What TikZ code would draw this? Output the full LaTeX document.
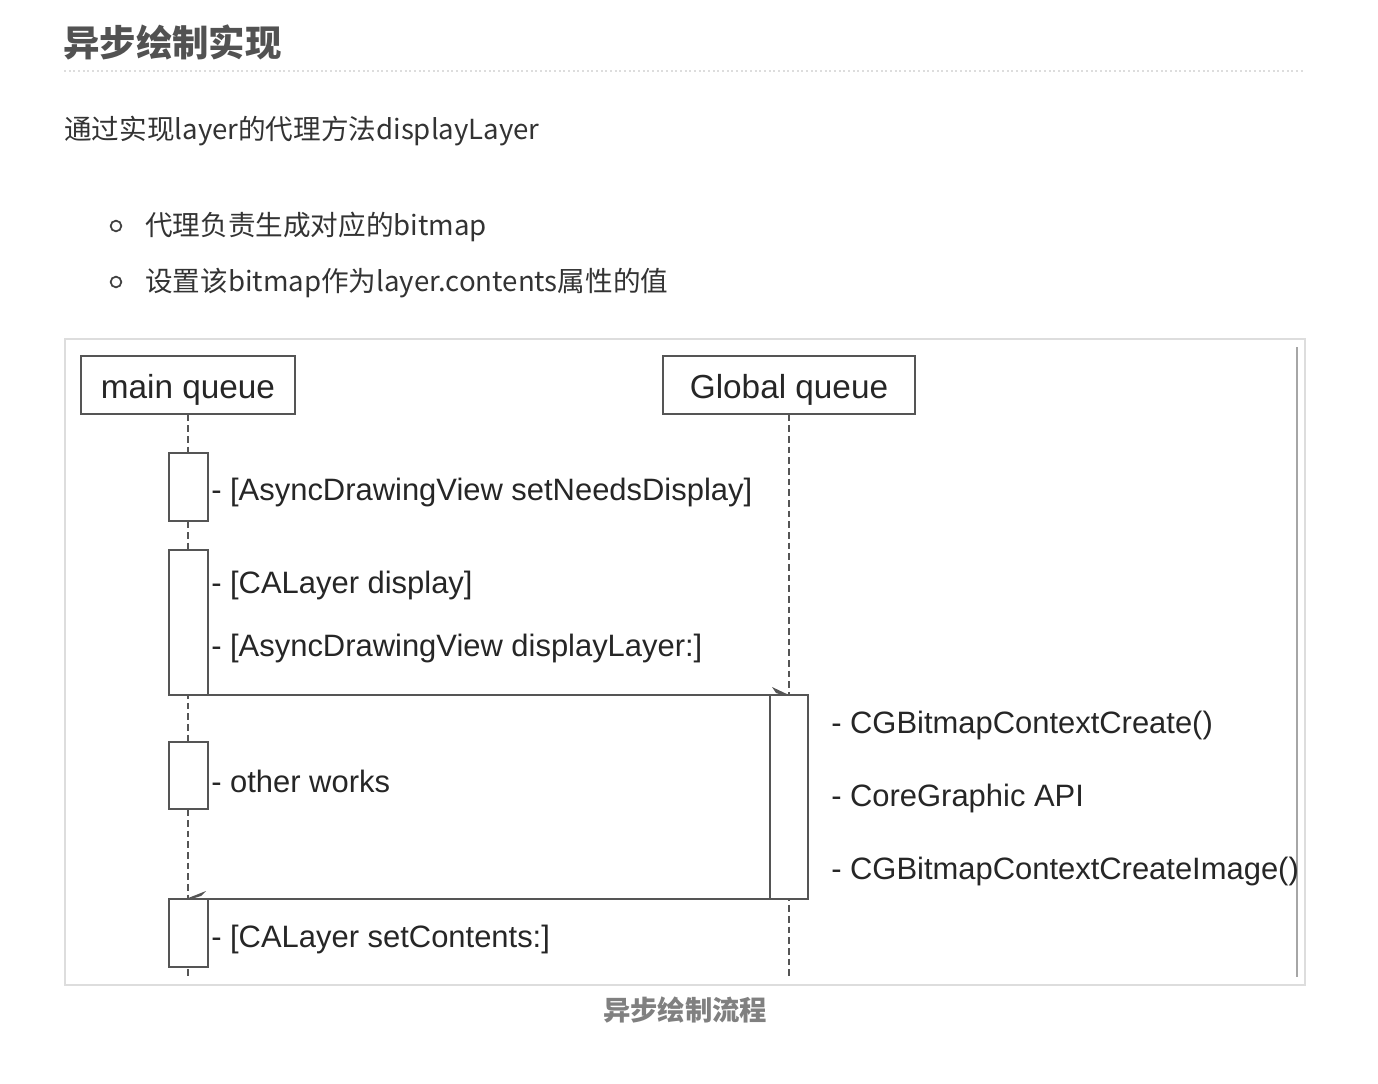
\documentclass[tikz,border=0pt]{standalone}
\usepackage{fontspec}
\setmainfont{Liberation Sans}
\newfontfamily\cjk{Noto Sans CJK SC}
\usetikzlibrary{arrows.meta}
\definecolor{lineg}{HTML}{555555}
\definecolor{frameg}{HTML}{DDDDDD}
\tikzset{
  x=0.75pt, y=-0.75pt,
  qbox/.style={draw=lineg, line width=1.1pt, minimum height=58*0.75pt, inner sep=0pt, font=\fontsize{25}{28}\selectfont, text=black!85},
  actbox/.style={draw=lineg, line width=1.1pt, fill=white},
  life/.style={draw=lineg, line width=1pt, dash pattern=on 5pt off 3pt},
  lbl/.style={anchor=west, inner sep=0pt, font=\fontsize{23.2}{26}\selectfont, text=black!85},
  msg/.style={draw=lineg, line width=1.1pt},
  body/.style={anchor=west, inner sep=0pt, font=\cjk\fontsize{20.7}{24}\selectfont, text=black!80},
}
\begin{document}
\begin{tikzpicture}
\useasboundingbox (0,0) rectangle (1378,1084);
% title
\node[anchor=west, inner sep=0pt, font=\cjk\bfseries\fontsize{27.3}{30}\selectfont, text=black!68] (title) at (63,42) {异步绘制实现};
\draw[frameg, line width=1.4pt, dash pattern=on 1.5pt off 2pt] (64,71) -- (1305,71);
\node[body] (intro) at (64,131) {通过实现layer的代理方法displayLayer};
\node[draw=black!75, circle, line width=1.3pt, minimum size=8pt, inner sep=0pt] (b1) at (116,226) {};
\node[draw=black!75, circle, line width=1.3pt, minimum size=8pt, inner sep=0pt] (b2) at (116,282) {};
\node[body] (t1) at (145,227) {代理负责生成对应的bitmap};
\node[body] (t2) at (145,283) {设置该bitmap作为layer.contents属性的值};
% frame
\draw[frameg, line width=1.5pt] (65,339) rectangle (1305,985);
\draw[black!35, line width=1.3pt] (1297,347) -- (1297,977);
% queues
\node[qbox, minimum width=214*0.75pt] (mq) at (188,385) {};
\node[qbox, minimum width=252*0.75pt] (gq) at (789,385) {};
\node[font=\fontsize{25}{28}\selectfont, text=black!85, inner sep=0pt] (mqt) at (188,390) {main queue};
\node[font=\fontsize{25}{28}\selectfont, text=black!85, inner sep=0pt] (gqt) at (789,390) {Global queue};
\coordinate (mend) at (188,977);
\coordinate (gend) at (789,977);
\draw[life] (mq.south) -- (mend);
\draw[life] (gq.south) -- (gend);
% activations main
\draw[actbox] (169,453) rectangle (208,521);
\draw[actbox] (169,550) rectangle (208,695);
\draw[actbox] (169,742) rectangle (208,809);
\draw[actbox] (169,899) rectangle (208,967);
\draw[actbox] (770,695) rectangle (808,899);
\coordinate (m1) at (208,695);
\coordinate (g1) at (789,695);
\coordinate (g2) at (770,899);
\coordinate (m2) at (188,899);
% messages
\draw[msg] (m1) -- (g1);
\fill[lineg] (790,695.5) -- (772,687) -- (776,693) -- (784,695.5) -- cycle;
\draw[msg] (g2) -- (m2);
\fill[lineg] (187,898.5) -- (206,891) -- (201,896) -- (193,898.5) -- cycle;
% labels
\node[lbl] (l1) at (211,493) {- [AsyncDrawingView setNeedsDisplay]};
\node[lbl] (l2) at (211,585) {- [CALayer display]};
\node[lbl] (l3) at (211,648) {- [AsyncDrawingView displayLayer:]};
\node[lbl] (l4) at (211,781) {- other works};
\node[lbl] (l5) at (211,939) {- [CALayer setContents:]};
\node[lbl] (r1) at (831,725) {- CGBitmapContextCreate()};
\node[lbl] (r2) at (831,798) {- CoreGraphic API};
\node[lbl] (r3) at (831,871) {- CGBitmapContextCreateImage()};
% caption
\node[inner sep=0pt, font=\cjk\bfseries\fontsize{20.5}{24}\selectfont, text=black!50] (cap) at (685,1010) {异步绘制流程};
\end{tikzpicture}
\end{document}
